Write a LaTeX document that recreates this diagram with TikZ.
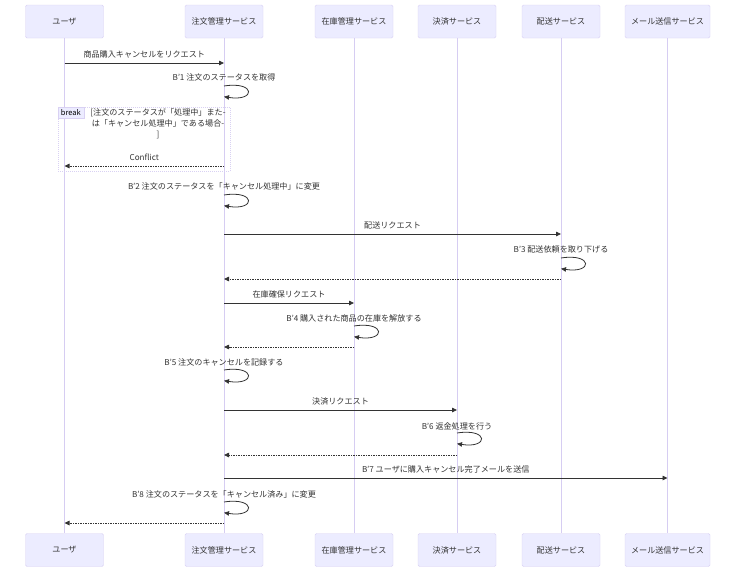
\documentclass[tikz,border=0pt]{standalone}
\usepackage{fontspec}
\setmainfont{Noto Sans CJK JP}
\usetikzlibrary{arrows.meta,positioning}
\definecolor{actorfill}{HTML}{ECECFF}
\definecolor{actorline}{HTML}{D9D1F3}
\definecolor{lifeline}{HTML}{D6CDF2}
\definecolor{msgcol}{HTML}{333333}

\begin{document}
\begin{tikzpicture}[x=1pt,y=-1pt,
    actor/.style={draw=actorline,fill=actorfill,rounded corners=1.5pt,minimum width=78pt,
        minimum height=33pt,inner sep=0pt,text=msgcol,font=\fontsize{8.1}{10}\selectfont},
    life/.style={draw=lifeline,line width=0.9pt},
    msg/.style={draw=msgcol,line width=0.8pt,-{Triangle[length=5pt,width=4.5pt]}},
    reply/.style={msg,dash pattern=on 1.5pt off 1pt},
    lbl/.style={text=msgcol,inner sep=0pt,font=\fontsize{8.1}{11}\selectfont},
    frame/.style={draw=actorline,line width=0.8pt,dash pattern=on 1pt off 1pt},
    tag/.style={fill=actorfill,draw=actorline,line width=0.5pt,inner sep=0pt,minimum width=26pt,
        minimum height=11pt,text=black,font=\fontsize{7.5}{9}\selectfont}]
    \useasboundingbox[fill=white] (0,0) rectangle (736,581);

    \node[actor] (u) at (64.5,21.5)  {ユーザ};
    \node[actor] (o) at (224,21.5)   {注文管理サービス};
    \node[actor] (z) at (354,21.5)   {在庫管理サービス};
    \node[actor] (k) at (457,21.5)   {決済サービス};
    \node[actor] (h) at (561,21.5)   {配送サービス};
    \node[actor,minimum width=85pt] (m) at (667.5,21.5) {メール送信サービス};

    \node[actor] (ub) at (64.5,550)  {ユーザ};
    \node[actor] (ob) at (224,550)   {注文管理サービス};
    \node[actor] (zb) at (354,550)   {在庫管理サービス};
    \node[actor] (kb) at (457,550)   {決済サービス};
    \node[actor] (hb) at (561,550)   {配送サービス};
    \node[actor,minimum width=85pt] (mb) at (667.5,550) {メール送信サービス};

    \foreach \p in {u,o,z,k,h,m}
        \draw[life] (\p.south) -- (\p b.north);

    % break block
    \node[frame,minimum width=172pt,minimum height=64pt] (brk) at (144,139) {};
    \node[tag,anchor=north west] (brktag) at (brk.north west) {break};
    \node[lbl,align=center] (cond) at (158,123.5)
        {[注文のステータスが「処理中」また-\\は「キャンセル処理中」である場合-\\]};

    \draw[msg] (u |- 0,63) -- node[lbl,above=4.5pt] {商品購入キャンセルをリクエスト} (o |- 0,63);

    \node[lbl] (s1) at (o |- 0,77) {B'1 注文のステータスを取得};
    \draw[msg] (o |- 0,86) .. controls +(32,-5) and +(32,5) .. (o |- 0,96.7);

    \draw[reply] (o |- 0,166) -- node[lbl,above=4.5pt] {Conflict} (u |- 0,166);

    \node[lbl] (s2) at (o |- 0,186) {B'2 注文のステータスを「キャンセル処理中」に変更};
    \draw[msg] (o |- 0,195) .. controls +(32,-5) and +(32,5) .. (o |- 0,205.7);

    \draw[msg] (o |- 0,234) -- node[lbl,above=4.5pt] {配送リクエスト} (h |- 0,234);

    \node[lbl] (s3) at (h |- 0,249) {B'3 配送依頼を取り下げる};
    \draw[msg] (h |- 0,258) .. controls +(32,-5) and +(32,5) .. (h |- 0,268.7);

    \draw[reply] (h |- 0,279) -- (o |- 0,279);

    \draw[msg] (o |- 0,303) -- node[lbl,above=4.5pt] {在庫確保リクエスト} (z |- 0,303);

    \node[lbl] (s4) at (z |- 0,318) {B'4 購入された商品の在庫を解放する};
    \draw[msg] (z |- 0,326) .. controls +(32,-5) and +(32,5) .. (z |- 0,336.7);

    \draw[reply] (z |- 0,347) -- (o |- 0,347);

    \node[lbl] (s5) at (o |- 0,362) {B'5 注文のキャンセルを記録する};
    \draw[msg] (o |- 0,370) .. controls +(32,-5) and +(32,5) .. (o |- 0,380.7);

    \draw[msg] (o |- 0,410) -- node[lbl,above=4.5pt] {決済リクエスト} (k |- 0,410);

    \node[lbl] (s6) at (k |- 0,426) {B'6 返金処理を行う};
    \draw[msg] (k |- 0,433) .. controls +(32,-5) and +(32,5) .. (k |- 0,443.7);

    \draw[reply] (k |- 0,455) -- (o |- 0,455);

    \draw[msg] (o |- 0,478) -- node[lbl,above=4.5pt] {B'7 ユーザに購入キャンセル完了メールを送信} (m |- 0,478);

    \node[lbl] (s8) at (o |- 0,494) {B'8 注文のステータスを「キャンセル済み」に変更};
    \draw[msg] (o |- 0,502) .. controls +(32,-5) and +(32,5) .. (o |- 0,512.7);

    \draw[reply] (o |- 0,523) -- (u |- 0,523);
\end{tikzpicture}
\end{document}
